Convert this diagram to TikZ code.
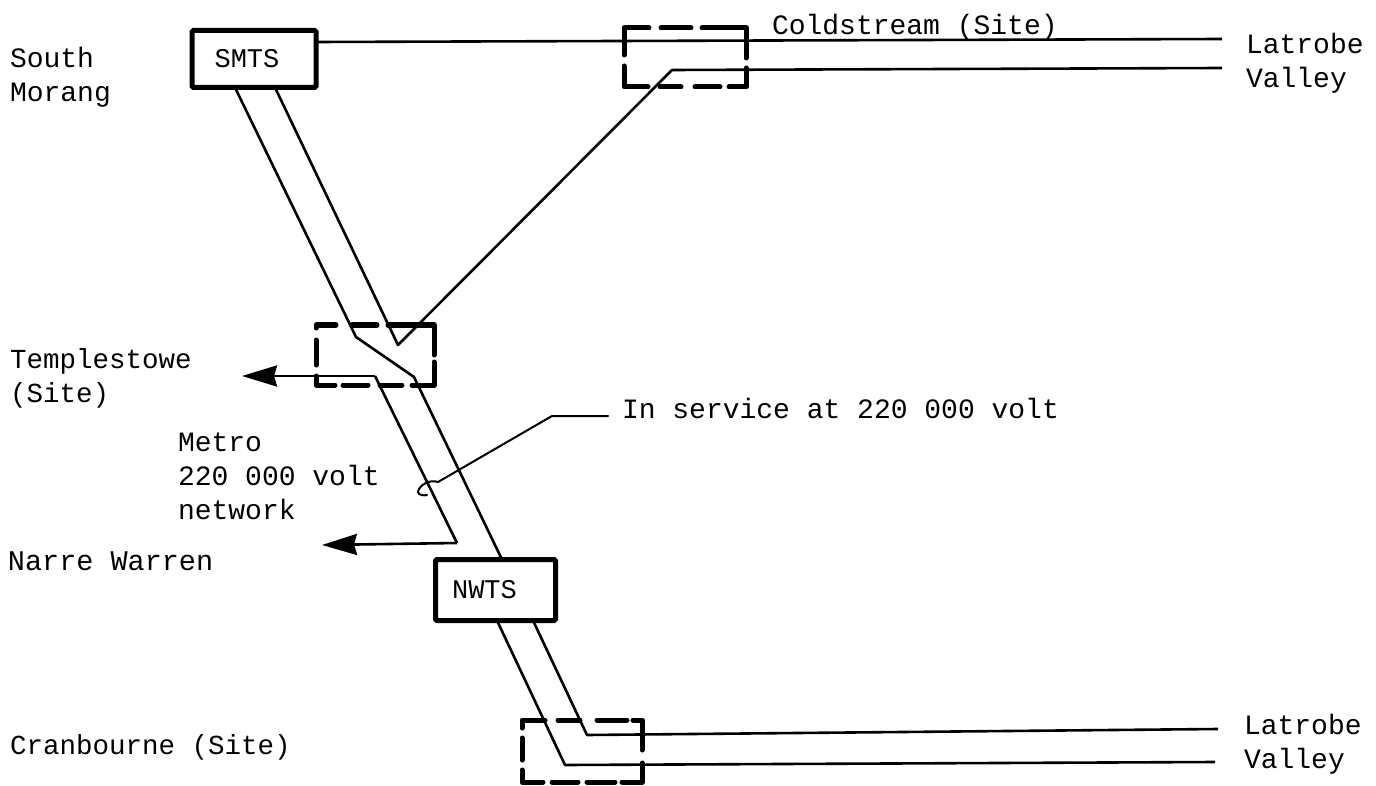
\documentclass[tikz,border=0pt]{standalone}
\usepackage{fontspec}
\setmainfont{Liberation Mono}
\usetikzlibrary{arrows.meta}
\tikzset{
  busbox/.style={draw=black,line width=5pt,rounded corners=1.5pt,inner sep=0pt,outer sep=0pt,font=\fontsize{27}{30}\selectfont},
  wire/.style={draw=black,line width=2.6pt,line join=round},
  site/.style={draw=black,line width=5pt,line cap=round,line join=round},
  label/.style={inner sep=0pt,outer sep=0pt,anchor=west,align=left,font=\fontsize{#1}{34}\selectfont},
  label/.default=28,
  feed/.style={wire,-{Stealth[length=35pt,width=21pt,inset=3pt]}}
}
\begin{document}
\begin{tikzpicture}[x=1pt,y=-1pt]
\useasboundingbox[fill=white] (0,0) rectangle (1376,786);
% boxes
\node[busbox,minimum width=124pt,minimum height=57pt] (smts) at (254,59) {SMTS\kern14pt};
\node[busbox,minimum width=120pt,minimum height=61pt] (nwts) at (495.5,590) {NWTS\kern22pt};
% free ends and bends
\coordinate (lv1) at (1222,39);
\coordinate (lv2) at (1222,68);
\coordinate (lv3) at (1218,729);
\coordinate (lv4) at (1215,762);
\coordinate (tipA) at (242,376);
\coordinate (tipB) at (322,545);
\coordinate (coldbend) at (672,70);
\coordinate (vee) at (398,345);
\coordinate (jogA) at (356,337);
\coordinate (jogB) at (414,377);
\coordinate (tb) at (375,376);
\coordinate (nb) at (457,543);
\coordinate (cb1) at (587,735);
\coordinate (cb2) at (565,765);
% connectors
\draw[wire] ([yshift=17pt]smts.east) -- (lv1);
\draw[wire] (lv2) -- (coldbend) -- (vee) -- ([xshift=83pt]smts.south west);
\draw[wire] ([xshift=43pt]smts.south west) -- (jogA) -- (jogB) -- ([xshift=66.5pt]nwts.north west);
\draw[feed] (nb) -- (tipB);
\draw[wire] (nb) -- (tb);
\draw[feed] (tb) -- (tipA);
\draw[wire] ([xshift=61.5pt]nwts.south west) -- (cb2) -- (lv4);
\draw[wire] ([xshift=97.5pt]nwts.south west) -- (cb1) -- (lv3);
% leader
\coordinate (leadA) at (608,416);
\coordinate (leadB) at (552,416);
\coordinate (leadC) at (438,482);
\draw[line width=2pt,line cap=round] (leadA) -- (leadB) -- (leadC)
  .. controls (430,479) and (419,485) .. (418,492) .. controls (418,495) and (424,496) .. (427,495);
% site outlines (dashes as printed)
\draw[site] (649,28)--(624,28)--(624,55) (624,66)--(624,87)--(648,87)
  (661,28)--(691,28) (702,28)--(746,28)--(746,58) (746,68)--(746,87)--(729,87)
  (660,87)--(681,87) (695,87)--(720,87);
\draw[site] (336,325)--(316,325)--(316,328) (316,340)--(316,365) (316,376)--(316,385)--(335,385)
  (352,325)--(377,325) (388,325)--(434,325)--(434,355) (434,362)--(434,385)--(412,385)
  (343,385)--(368,385) (380,385)--(402,385);
\draw[site] (545,720)--(522,720)--(522,728) (522,738)--(522,760) (522,770)--(522,782)--(543,782)
  (558,720)--(580,720) (597,720)--(627,720) (633,720)--(642,720)--(642,750) (642,763)--(642,782)--(622,782)
  (552,782)--(578,782) (587,782)--(615,782);
% labels
\node[label] (south) at (10,77) {South\\Morang};
\node[label] (cold) at (772,27) {Coldstream (Site)};
\node[label] (lat1) at (1246,63) {Latrobe\\Valley};
\node[label=27.5] (temple) at (10,378) {Templestowe\\(Site)};
\node[label] (service) at (622,408) {In service at 220 000 volt};
\node[label] (metro) at (178,476) {Metro\\220 000 volt\\network};
\node[label=28.5] (narre) at (8,561) {Narre Warren};
\node[label=27.5] (cran) at (10,747) {Cranbourne (Site)};
\node[label] (lat2) at (1244,744) {Latrobe\\Valley};
\end{tikzpicture}
\end{document}
